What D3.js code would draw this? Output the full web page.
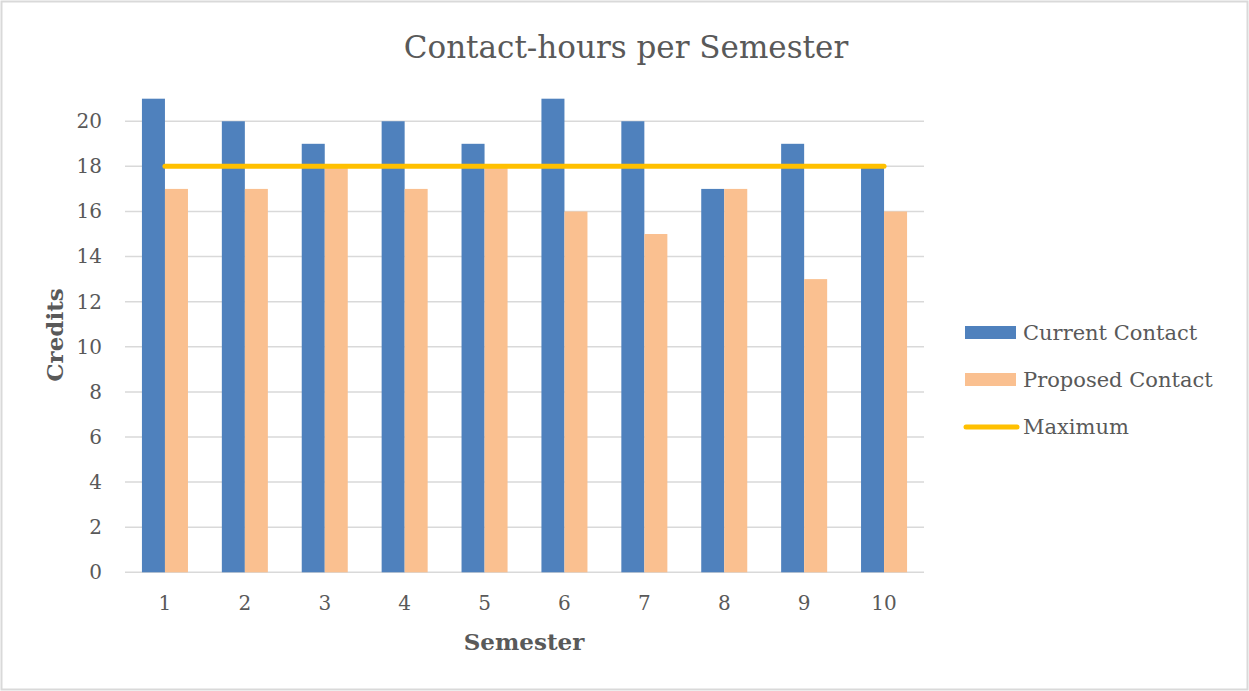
<!DOCTYPE html>
<html>
<head>
<meta charset="utf-8">
<script src="https://cdnjs.cloudflare.com/ajax/libs/d3/7.8.5/d3.min.js"></script>
<style>
  html, body { margin: 0; padding: 0; background: #fff; }
  .chart { width: 1249px; height: 691px; }
  text { font-family: "DejaVu Serif", serif; fill: #595959; }
</style>
</head>
<body>
<div class="chart"></div>
<script>
const semesters = ['1', '2', '3', '4', '5', '6', '7', '8', '9', '10'];
const currentContact = [21, 20, 19, 20, 19, 21, 20, 17, 19, 18];
const proposedContact = [17, 17, 18, 17, 18, 16, 15, 17, 13, 16];
const maximum = [18, 18, 18, 18, 18, 18, 18, 18, 18, 18];
const yTicks = [0, 2, 4, 6, 8, 10, 12, 14, 16, 18, 20];

const seriesNames = ['Current Contact', 'Proposed Contact', 'Maximum'];
const colors = { current: '#4F81BD', proposed: '#FAC090', max: '#FFC000' };

const totalWidth = 1249;
const totalHeight = 691;
const margin = { top: 98.7, left: 125, right: 325, bottom: 118.7 };
const width = totalWidth - margin.left - margin.right;
const height = totalHeight - margin.top - margin.bottom;

const svg = d3.select('.chart').append('svg')
    .attr('width', totalWidth)
    .attr('height', totalHeight);

// chart border
svg.append('rect')
    .attr('x', 1.5).attr('y', 1.5)
    .attr('width', totalWidth - 3).attr('height', totalHeight - 3)
    .attr('fill', '#fff')
    .attr('stroke', '#D9D9D9')
    .attr('stroke-width', 2);

const group = svg.append('g').attr('transform', 'translate(' + margin.left + ', ' + margin.top + ')');

const x = d3.scaleBand().domain(semesters).range([0, width]).paddingInner(0.424).paddingOuter(0.212);
const xOuter = d3.scaleBand().domain(semesters).range([0, width]);
const y = d3.scaleLinear().domain([0, 21]).range([height, 0]);

// gridlines
group.append('g')
    .selectAll('line')
    .data(yTicks)
    .enter().append('line')
    .attr('x1', 0).attr('x2', width)
    .attr('y1', function (d) { return y(d); })
    .attr('y2', function (d) { return y(d); })
    .attr('stroke', '#D9D9D9')
    .attr('stroke-width', 1.5);

// y tick labels
const yAxis = group.append('g').call(d3.axisLeft(y).tickValues(yTicks).tickSize(0).tickPadding(23));
yAxis.select('.domain').remove();
yAxis.selectAll('text')
    .attr('font-family', '"DejaVu Serif", serif')
    .style('font-size', '20px')
    .attr('fill', '#595959');

// x tick labels
const xAxis = group.append('g')
    .attr('transform', 'translate(0, ' + height + ')')
    .call(d3.axisBottom(xOuter).tickSize(0).tickPadding(24));
xAxis.select('.domain').remove();
xAxis.selectAll('text')
    .attr('font-family', '"DejaVu Serif", serif')
    .style('font-size', '20px')
    .attr('fill', '#595959');

// bars
const barWidth = x.bandwidth() / 2;
const bars = group.append('g');
bars.selectAll('.current')
    .data(currentContact)
    .enter().append('rect')
    .attr('class', 'current')
    .attr('x', function (d, i) { return x(semesters[i]); })
    .attr('y', function (d) { return y(d); })
    .attr('width', barWidth)
    .attr('height', function (d) { return height - y(d); })
    .attr('fill', colors.current);

bars.selectAll('.proposed')
    .data(proposedContact)
    .enter().append('rect')
    .attr('class', 'proposed')
    .attr('x', function (d, i) { return x(semesters[i]) + barWidth; })
    .attr('y', function (d) { return y(d); })
    .attr('width', barWidth)
    .attr('height', function (d) { return height - y(d); })
    .attr('fill', colors.proposed);

// maximum line
const line = d3.line()
    .x(function (d, i) { return xOuter(semesters[i]) + xOuter.bandwidth() / 2; })
    .y(function (d) { return y(d); });

group.append('path')
    .datum(maximum)
    .attr('d', line)
    .attr('fill', 'none')
    .attr('stroke', colors.max)
    .attr('stroke-width', 5)
    .attr('stroke-linecap', 'round');

// title
svg.append('text')
    .attr('x', 626).attr('y', 58)
    .attr('text-anchor', 'middle')
    .style('font-size', '31px')
    .text('Contact-hours per Semester');

// axis titles
svg.append('text')
    .attr('x', 524).attr('y', 650)
    .attr('text-anchor', 'middle')
    .style('font-size', '23px')
    .style('font-weight', 'bold')
    .text('Semester');

svg.append('text')
    .attr('transform', 'translate(63, 335) rotate(-90)')
    .attr('text-anchor', 'middle')
    .style('font-size', '23px')
    .style('font-weight', 'bold')
    .text('Credits');

// legend
const legend = svg.append('g').attr('transform', 'translate(965, 333)');
const legendGroups = legend.selectAll('g')
    .data(seriesNames)
    .enter().append('g')
    .attr('transform', function (d, i) { return 'translate(0, ' + (i * 47) + ')'; });

legendGroups.each(function (d, i) {
    const g = d3.select(this);
    if (i < 2) {
        g.append('rect')
            .attr('x', 0).attr('y', -7)
            .attr('width', 51).attr('height', 13)
            .attr('fill', i === 0 ? colors.current : colors.proposed);
    } else {
        g.append('line')
            .attr('x1', 1).attr('x2', 52)
            .attr('y1', 0).attr('y2', 0)
            .attr('stroke', colors.max)
            .attr('stroke-width', 5)
            .attr('stroke-linecap', 'round');
    }
    g.append('text')
        .attr('x', 58).attr('y', 0)
        .attr('dy', '0.35em')
        .style('font-size', '21px')
        .text(d);
});
</script>
</body>
</html>
